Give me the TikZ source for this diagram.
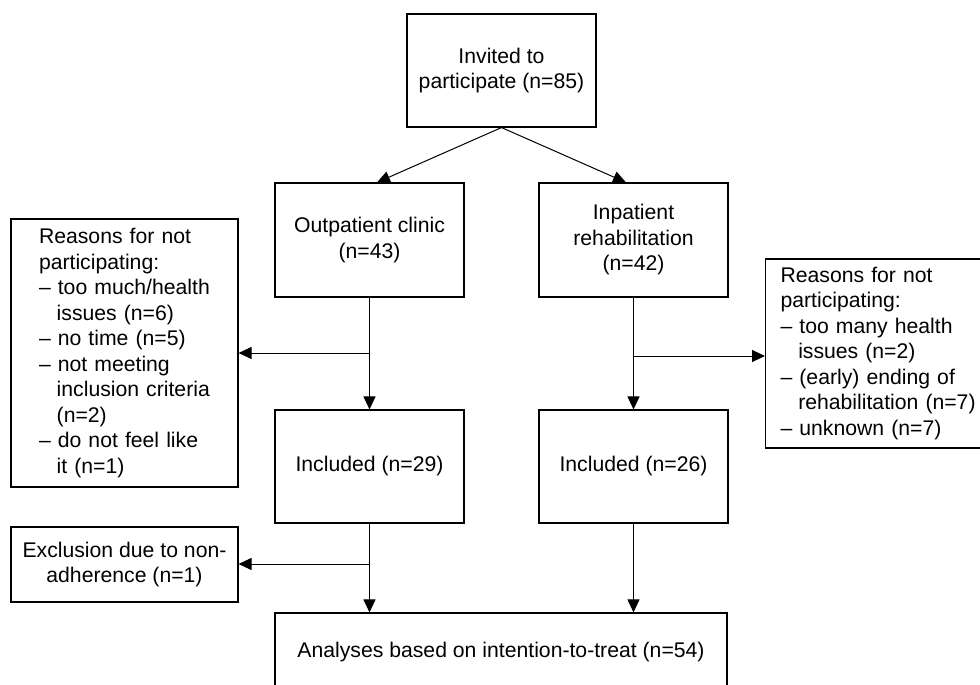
\documentclass[tikz,border=0pt]{standalone}
\usepackage{fontspec}
\setmainfont{Liberation Sans}
\usetikzlibrary{arrows.meta}
\begin{document}
\begin{tikzpicture}[x=1pt,y=-1pt,
  every node/.style={font=\fontsize{21.2}{25.5}\selectfont},
  box/.style={draw=black,line width=1.1pt,rectangle,inner sep=0pt,align=center},
  conn/.style={line width=1pt,draw=black},
  arr/.style={conn,-{Triangle[length=13pt,width=12pt]}}]
\clip (0,0) rectangle (980,685);
\fill[white] (0,0) rectangle (980,685);
\node[box,minimum width=189pt,minimum height=113pt] (top) at (501.5,70.5) {Invited to\\participate (n=85)};
\node[box,minimum width=189pt,minimum height=114pt] (out) at (369.5,240) {Outpatient clinic\\(n=43)};
\node[box,minimum width=189pt,minimum height=114pt] (inp) at (633.5,240) {Inpatient\\rehabilitation\\(n=42)};
\node[box,minimum width=189pt,minimum height=113pt] (inc1) at (369.5,466.5) {Included (n=29)};
\node[box,minimum width=189pt,minimum height=113pt] (inc2) at (633.5,466.5) {Included (n=26)};
\node[box,align=left,text width=171pt,inner xsep=28pt,minimum height=268pt] (lr) at (124.5,353)
 {Reasons for not\\participating:\\–\ too much/health\\\hspace*{17.7pt}issues (n=6)\\–\ no time (n=5)\\–\ not meeting\\\hspace*{17.7pt}inclusion criteria\\\hspace*{17.7pt}(n=2)\\–\ do not feel like\\\hspace*{17.7pt}it (n=1)};
\node[box,align=left,text width=240pt,inner xsep=15pt,minimum height=189pt,anchor=west] (rr) at (765,353.5)
 {Reasons for not\\participating:\\–\ too many health\\\hspace*{17.7pt}issues (n=2)\\–\ (early) ending of\\\hspace*{17.7pt}rehabilitation (n=7)\\–\ unknown (n=7)};
\node[box,minimum width=227pt,minimum height=75pt] (ex) at (124.5,564.5) {Exclusion due to non-\\adherence (n=1)};
\node[box,minimum width=452pt,minimum height=78pt] (an) at (501,652) {Analyses based on intention-to-treat (n=54)};
% connectors
\draw[arr] (top.south) -- ([xshift=7.5pt]out.north);
\draw[arr] (top.south) -- ([xshift=-7.5pt]inp.north);
\coordinate (b1) at (out.south |- 0,353);
\coordinate (b2) at (inp.south |- 0,356);
\coordinate (b3) at (inc1.south |- 0,564);
\draw[arr] (out.south) -- (inc1.north);
\draw[arr] (b1) -- (b1 -| lr.east);
\draw[arr] (inp.south) -- (inc2.north);
\draw[arr] (b2) -- (b2 -| rr.west);
\draw[arr] (inc1.south) -- (inc1.south |- an.north);
\draw[arr] (b3) -- (b3 -| ex.east);
\draw[arr] (inc2.south) -- (inc2.south |- an.north);
\end{tikzpicture}
\end{document}
